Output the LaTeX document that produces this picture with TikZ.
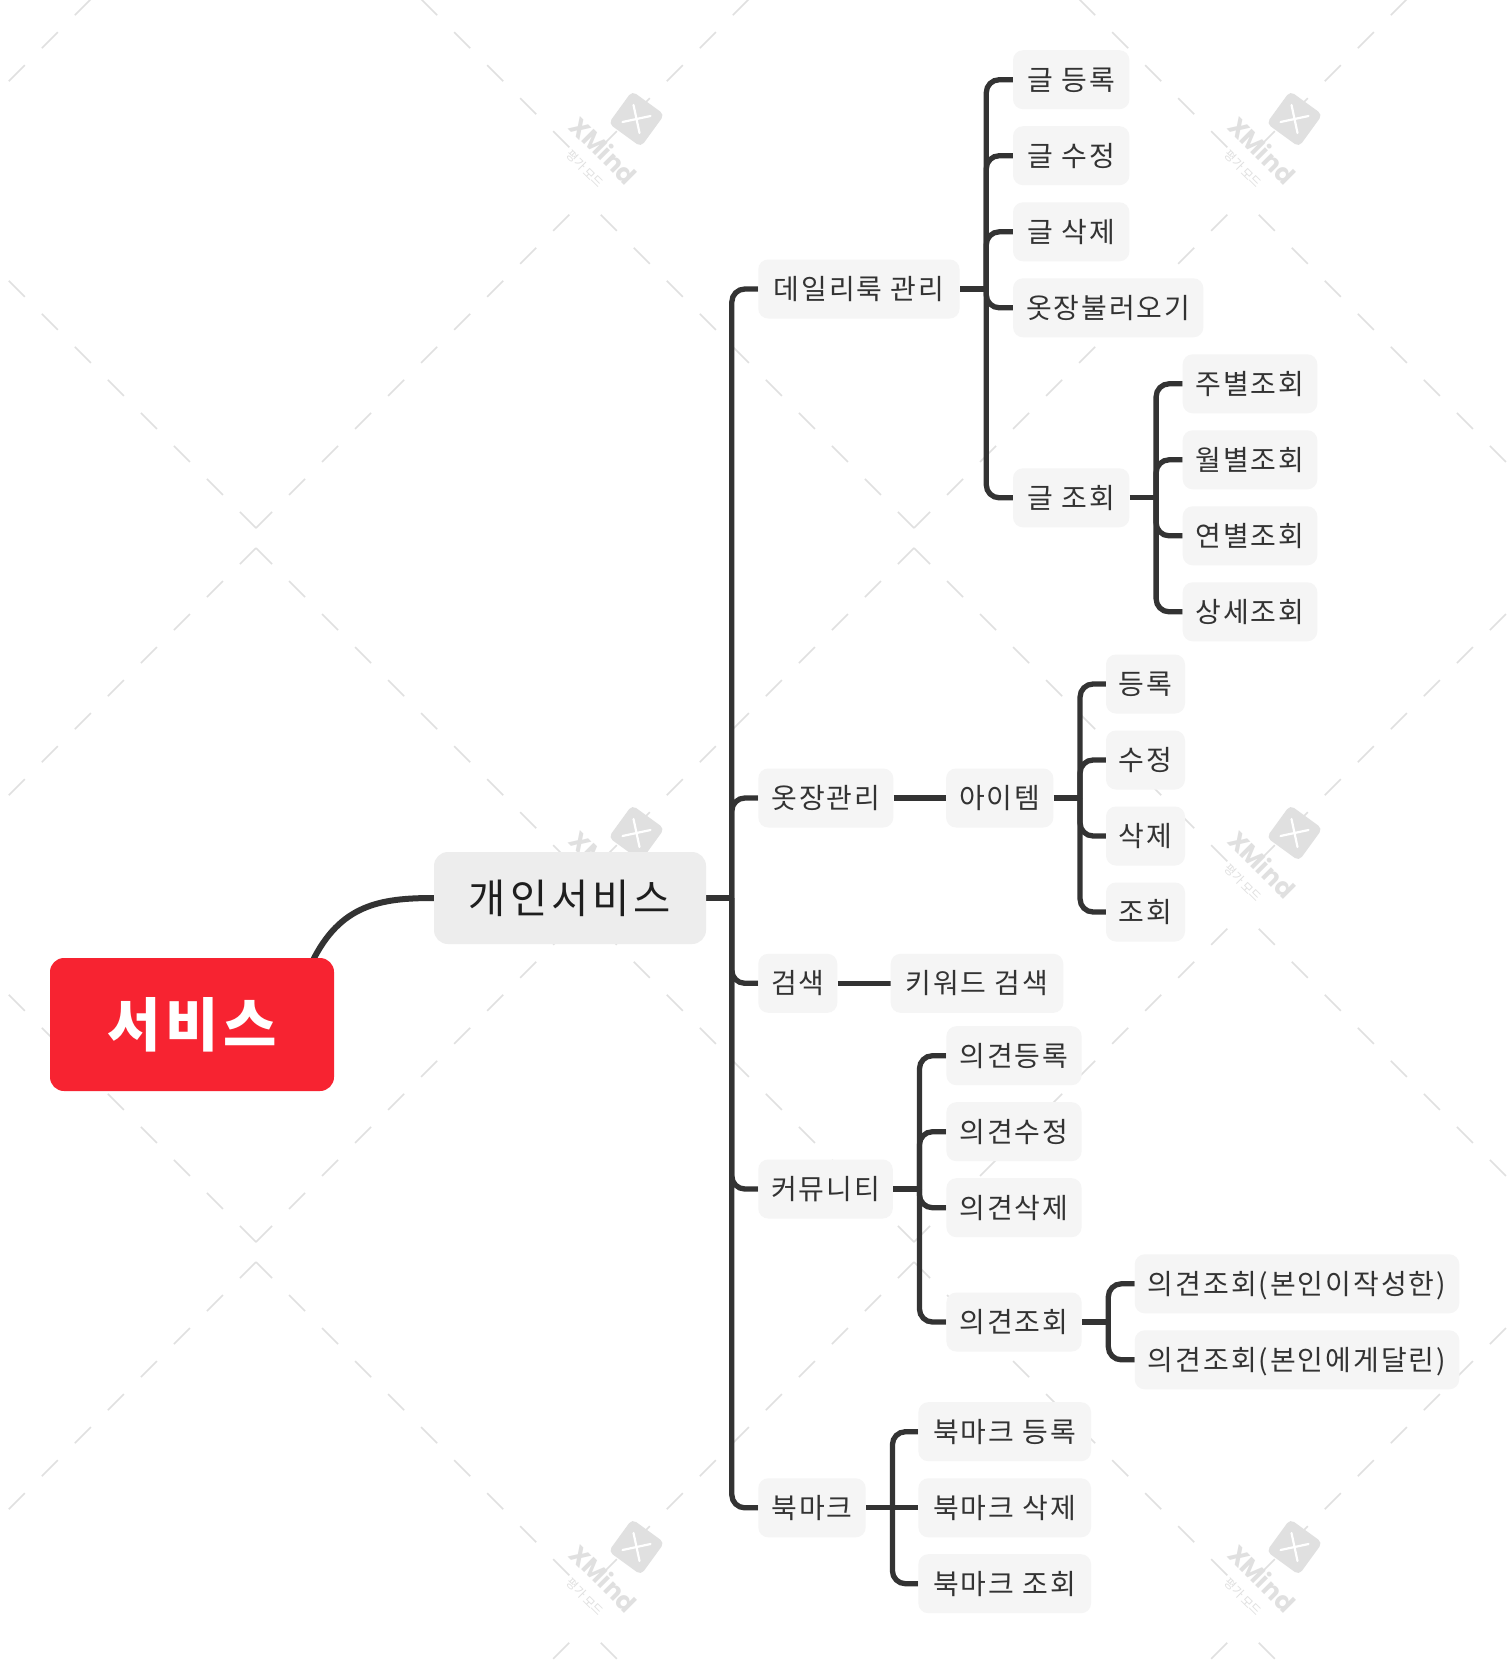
\documentclass[tikz,border=0pt]{standalone}
\usepackage{fontspec}
\setmainfont{Noto Sans CJK KR}
\newfontfamily\lvfont{Noto Sans CJK KR}[LetterSpace=7]
\newfontfamily\rootfont{Noto Sans CJK KR}[LetterSpace=10]
\newfontfamily\centralfont{Noto Sans CJK KR}[LetterSpace=8]
\newfontfamily\wmfont{Poppins}
\usetikzlibrary{calc}
\pgfdeclarelayer{lattice}
\pgfdeclarelayer{links}
\pgfsetlayers{lattice,links,main}
\definecolor{conn}{HTML}{333333}
\definecolor{boxfill}{HTML}{F5F5F5}
\definecolor{rootfill}{HTML}{EDEDED}
\definecolor{centralred}{HTML}{F72331}
\definecolor{wmgray}{HTML}{E0E0E0}
\definecolor{txt}{HTML}{333333}
\definecolor{roottxt}{HTML}{1E1E1E}
\tikzset{
  topic/.style={fill=boxfill, rounded corners=10pt, minimum height=59pt, inner sep=0pt,
    text=txt, font=\lvfont\fontsize{28}{34}\selectfont, text height=23.8pt, text depth=2.8pt},
  roottopic/.style={fill=rootfill, rounded corners=14pt, minimum width=272pt, minimum height=92pt,
    inner sep=0pt, text=roottxt, font=\rootfont\fontsize{40.5}{48}\selectfont, text height=34.4pt, text depth=4pt},
  centraltopic/.style={fill=centralred, rounded corners=14pt, minimum width=284pt, minimum height=133pt,
    inner sep=0pt, text=white, font=\centralfont\bfseries\fontsize{58}{68}\selectfont, text height=49.5pt, text depth=5.8pt},
  branch/.style={draw=conn, line width=5.3pt, rounded corners=13pt},
  mainlink/.style={draw=conn, line width=6pt},
  wmline/.style={draw=wmgray, line width=1.6pt, dash pattern=on 22.7pt off 24pt},
  wmicon/.style={fill=wmgray, rounded corners=5pt, minimum size=40pt, inner sep=0pt},
}
\begin{document}
\begin{tikzpicture}[x=1pt,y=-1pt]
\useasboundingbox (0,0) rectangle (1510,1664);

% ---------- background lattice and watermarks ----------
\begin{pgfonlayer}{lattice}
\fill[white] (0,0) rectangle (1510,1664);
\begin{scope}
\clip (0,0) rectangle (1510,1664);
\foreach \j in {-1,0,1,2} {
  \foreach \i in {-1,0,1,2} {
    \pgfmathsetmacro\xv{256+658*\i}
    \pgfmathsetmacro\yc{538+714*\j}
    \draw[wmline] (\xv,\yc-10) -- ++(-329,-329);
    \draw[wmline] (\xv,\yc-10) -- ++(329,-329);
    \draw[wmline] (\xv,\yc+10) -- ++(-329,329);
    \draw[wmline] (\xv,\yc+10) -- ++(329,329);
  }
}
\foreach \wx in {585,1243} {
  \foreach \wy in {181,895,1609} {
    \begin{scope}[shift={(\wx,\wy)}]
      \node[wmicon, rotate=-36] (wmi-\wx-\wy) at (51.5,-62) {};
      \draw[white, line width=2.2pt, line cap=round] ($(wmi-\wx-\wy.center)+(-14,3)$) -- ($(wmi-\wx-\wy.center)+(14,-3)$);
      \draw[white, line width=2.2pt, line cap=round] ($(wmi-\wx-\wy.center)+(-3,-14)$) -- ($(wmi-\wx-\wy.center)+(3,14)$);
      \node[rotate=-45, text=wmgray, inner sep=0pt, font=\wmfont\bfseries\fontsize{25}{25}\selectfont] (wmt-\wx-\wy) at (19,-31) {XMind};
      \node[rotate=-45, text=wmgray, inner sep=0pt, font=\fontsize{12}{12}\selectfont] (wms-\wx-\wy) at (0,-12) {평가 모드};
    \end{scope}
  }
}
\end{scope}
\end{pgfonlayer}

% ---------- nodes ----------
\node[centraltopic] (srv) at (192,1024.5) {서비스};
\node[roottopic] (personal) at (570,898) {개인서비스};

\node[topic, minimum width=201.3pt] (daily)  at (858.9,289)   {데일리룩 관리};
\node[topic, minimum width=135pt]   (closet) at (825.8,798)   {옷장관리};
\node[topic, minimum width=79pt]    (search) at (797.8,983.3) {검색};
\node[topic, minimum width=134.5pt] (comm)   at (825.5,1189)  {커뮤니티};
\node[topic, minimum width=107.4pt] (bm)     at (812,1507.8)  {북마크};

\node[topic, minimum width=116.4pt] (d1) at (1071.2,79.7)  {글 등록};
\node[topic, minimum width=116.4pt] (d2) at (1071.2,155.7) {글 수정};
\node[topic, minimum width=116.4pt] (d3) at (1071.2,231.8) {글 삭제};
\node[topic, minimum width=190.3pt] (d4) at (1108.2,307.8) {옷장불러오기};
\node[topic, minimum width=116.4pt] (d5) at (1071.2,497.8) {글 조회};

\node[topic, minimum width=134.6pt] (q1) at (1250,383.8) {주별조회};
\node[topic, minimum width=134.6pt] (q2) at (1250,459.8) {월별조회};
\node[topic, minimum width=134.6pt] (q3) at (1250,535.8) {연별조회};
\node[topic, minimum width=134.6pt] (q4) at (1250,611.8) {상세조회};

\node[topic, minimum width=107.3pt] (item) at (999.7,798) {아이템};
\node[topic, minimum width=79pt] (i1) at (1145.5,684) {등록};
\node[topic, minimum width=79pt] (i2) at (1145.5,760) {수정};
\node[topic, minimum width=79pt] (i3) at (1145.5,836) {삭제};
\node[topic, minimum width=79pt] (i4) at (1145.5,912) {조회};

\node[topic, minimum width=172.6pt] (kw) at (977,983.3) {키워드 검색};

\node[topic, minimum width=135.2pt] (c1) at (1014,1055.7) {의견등록};
\node[topic, minimum width=135.2pt] (c2) at (1014,1131.7) {의견수정};
\node[topic, minimum width=135.2pt] (c3) at (1014,1207.7) {의견삭제};
\node[topic, minimum width=135.2pt] (c4) at (1014,1322)   {의견조회};

\node[topic, minimum width=324.5pt] (v1) at (1297,1283.8) {의견조회(본인이작성한)};
\node[topic, minimum width=324.5pt] (v2) at (1297,1359.8) {의견조회(본인에게달린)};

\node[topic, minimum width=172.7pt] (b1) at (1004.7,1431.7) {북마크 등록};
\node[topic, minimum width=172.7pt] (b2) at (1004.7,1507.8) {북마크 삭제};
\node[topic, minimum width=172.7pt] (b3) at (1004.7,1583.7) {북마크 조회};

% ---------- junction points ----------
\coordinate (jroot) at ($(personal.east)+(25.6,0)$);
\coordinate (jd) at ($(daily.east)+(26.5,0)$);
\coordinate (jq) at ($(d5.east)+(26.5,0)$);
\coordinate (ji) at ($(item.east)+(26.5,0)$);
\coordinate (jc) at ($(comm.east)+(26.5,0)$);
\coordinate (jv) at ($(c4.east)+(26.5,0)$);
\coordinate (jb) at ($(bm.east)+(26.5,0)$);
\coordinate (srvtop) at ($(srv.north east)+(-22,4)$);

% ---------- connectors ----------
\begin{pgfonlayer}{links}
\draw[mainlink] (srvtop) .. controls +(28,-57) and +(-54,0) .. (personal.west);

\draw[branch] (personal.east) -- (jroot);
\foreach \c in {daily,closet,search,comm,bm} \draw[branch] (jroot) |- (\c.west);

\draw[branch] (daily.east) -- (jd);
\foreach \c in {d1,d2,d3,d4,d5} \draw[branch] (jd) |- (\c.west);

\draw[branch] (d5.east) -- (jq);
\foreach \c in {q1,q2,q3,q4} \draw[branch] (jq) |- (\c.west);

\draw[branch] (closet.east) -- (item.west);
\draw[branch] (item.east) -- (ji);
\foreach \c in {i1,i2,i3,i4} \draw[branch] (ji) |- (\c.west);

\draw[branch] (search.east) -- (kw.west);

\draw[branch] (comm.east) -- (jc);
\foreach \c in {c1,c2,c3,c4} \draw[branch] (jc) |- (\c.west);

\draw[branch] (c4.east) -- (jv);
\foreach \c in {v1,v2} \draw[branch] (jv) |- (\c.west);

\draw[branch] (bm.east) -- (jb);
\draw[branch] (jb) |- (b1.west);
\draw[branch] (jb) -- (b2.west);
\draw[branch] (jb) |- (b3.west);
\end{pgfonlayer}
\end{tikzpicture}
\end{document}
